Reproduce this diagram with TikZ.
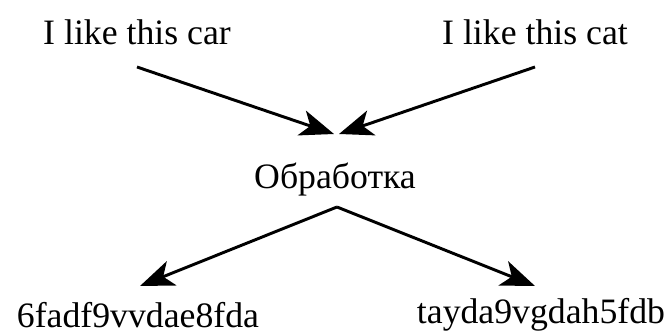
\documentclass[tikz,border=0pt]{standalone}
\usepackage{fontspec}
\setmainfont{Liberation Serif}
\usetikzlibrary{arrows.meta}

\begin{document}
\begin{tikzpicture}[x=0.03cm, y=-0.03cm, >={Stealth[length=34*0.03cm, width=26*0.03cm, inset=9*0.03cm]}]
    % --- Estilos ---
    \tikzset{
        lbl/.style={font=\fontsize{30.5}{36}\selectfont, inner sep=0pt},
        flow/.style={->, line width=2.5pt}
    }
    \useasboundingbox (0,0) rectangle (665,335);

    % --- Textos ---
    \node[lbl] (car) at (137,32) {I like this car};
    \node[lbl] (cat) at (535,32) {I like this cat};
    \node[lbl] (proc) at (335,180) {Обработка};
    \node[lbl] (hashA) at (138,315) {6fadf9vvdae8fda};
    \node[lbl] (hashB) at (541,315) {tayda9vgdah5fdb};

    % --- Extremos de las flechas ---
    \coordinate (carout) at (137,67);
    \coordinate (catout) at (535,67);
    \coordinate (procinA) at (334,134);
    \coordinate (procinB) at (339,134);
    \coordinate (procout) at (337,207);
    \coordinate (hashinA) at (140,286);
    \coordinate (hashinB) at (535,286);

    % --- Flechas ---
    \draw[flow] (carout) -- (procinA);
    \draw[flow] (catout) -- (procinB);
    \draw[flow] (procout) -- (hashinA);
    \draw[flow] (procout) -- (hashinB);
\end{tikzpicture}
\end{document}
